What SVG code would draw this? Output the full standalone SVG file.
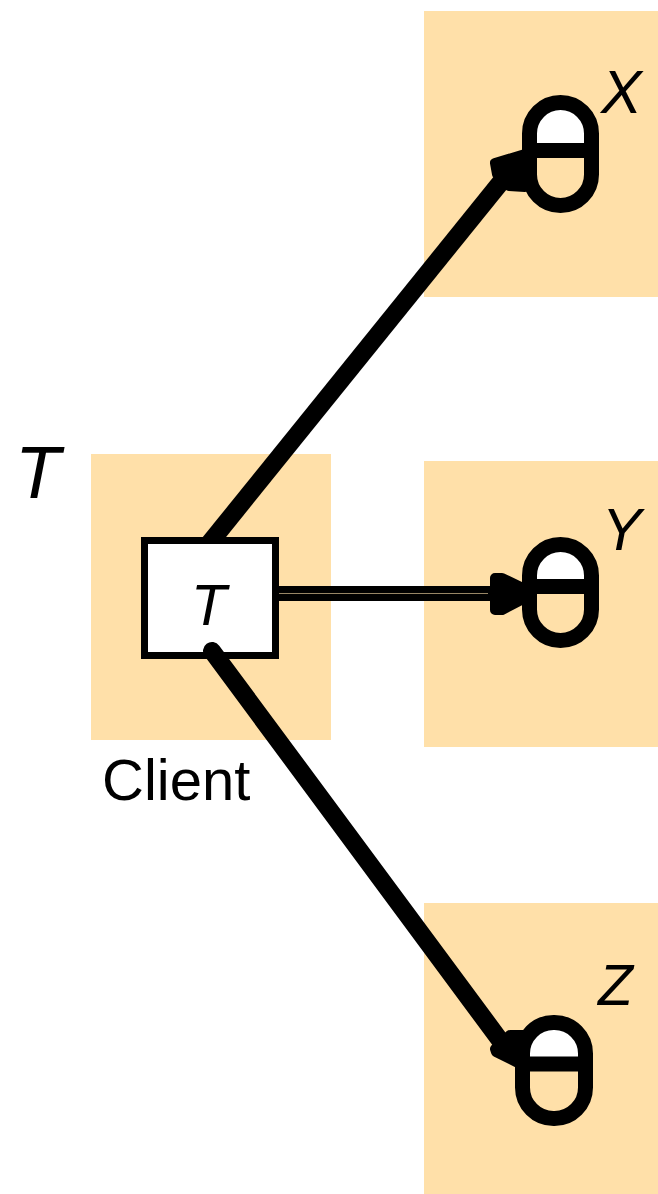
<svg xmlns="http://www.w3.org/2000/svg" width="658" height="1194" viewBox="0 0 658 1194">
<style>
.bg{fill:#ffe0a9}
.pill{fill:none;stroke:#000;stroke-width:15}
.top{fill:#fff}
.div{stroke:#000;stroke-width:15;fill:none}
.line{stroke:#000;stroke-width:18;fill:none}
.head{fill:#000;stroke:#000;stroke-width:10;stroke-linejoin:round}
text{font-family:"Liberation Sans",Arial,sans-serif;fill:#000}
.it{font-style:italic}
</style>
<rect width="658" height="1194" fill="#fff"/>
<g id="client">
<rect class="bg" x="91" y="454" width="240" height="286"/>
<text class="it" x="15" y="498" font-size="74">T</text>
<text x="102" y="800" font-size="58">Client</text>
</g>
<g id="replica-x">
<rect class="bg" x="424" y="11" width="234" height="286"/>
<path class="top" d="M529 150V134a31 31 0 0 1 62 0V150Z"/>
<rect class="pill" x="529.500" y="102.500" width="62" height="103" rx="31" ry="31"/>
<path class="div" d="M529 150.500H591"/>
<text class="it" x="601" y="113" font-size="61">X</text>
</g>
<g id="replica-y">
<rect class="bg" x="424" y="461" width="234" height="286"/>
<path class="top" d="M529 586V575a31 31 0 0 1 62 0V586Z"/>
<rect class="pill" x="529.500" y="544.500" width="62" height="96" rx="31" ry="31"/>
<path class="div" d="M529 586.500H591"/>
<text class="it" x="602" y="550" font-size="59">Y</text>
</g>
<g id="replica-z">
<rect class="bg" x="424" y="903" width="234" height="291"/>
<path class="top" d="M522 1064V1053a31 31 0 0 1 63 0V1064Z"/>
<rect class="pill" x="522.500" y="1022.500" width="63" height="96" rx="31" ry="31"/>
<path class="div" d="M522 1064H585"/>
<text class="it" x="598" y="1005" font-size="57">Z</text>
</g>
<g id="connectors">
<path class="line" d="M208 545L505 177"/>
</g>
<g id="client-box">
<rect x="144.500" y="540.500" width="131" height="115" fill="#fff" stroke="#000" stroke-width="7"/>
<text class="it" x="191" y="625" font-size="58">T</text>
</g>
<g id="connectors-front">
<path class="head" d="M495 163L525 154V187L509 186L497 174Z"/>
<path stroke="#000" stroke-width="15" fill="none" d="M276 593.500H495"/>
<path stroke="#fee0aa" stroke-opacity="0.6" stroke-width="1" fill="none" d="M279 593.500H488"/>
<path class="head" d="M495 578H502L525 589V598L502 610H495Z"/>
<path class="line" stroke-linecap="round" d="M212 651L505 1047"/>
<path class="head" d="M495 1049L510 1035H525L518 1063L496 1052Z"/>
</g>
</svg>
